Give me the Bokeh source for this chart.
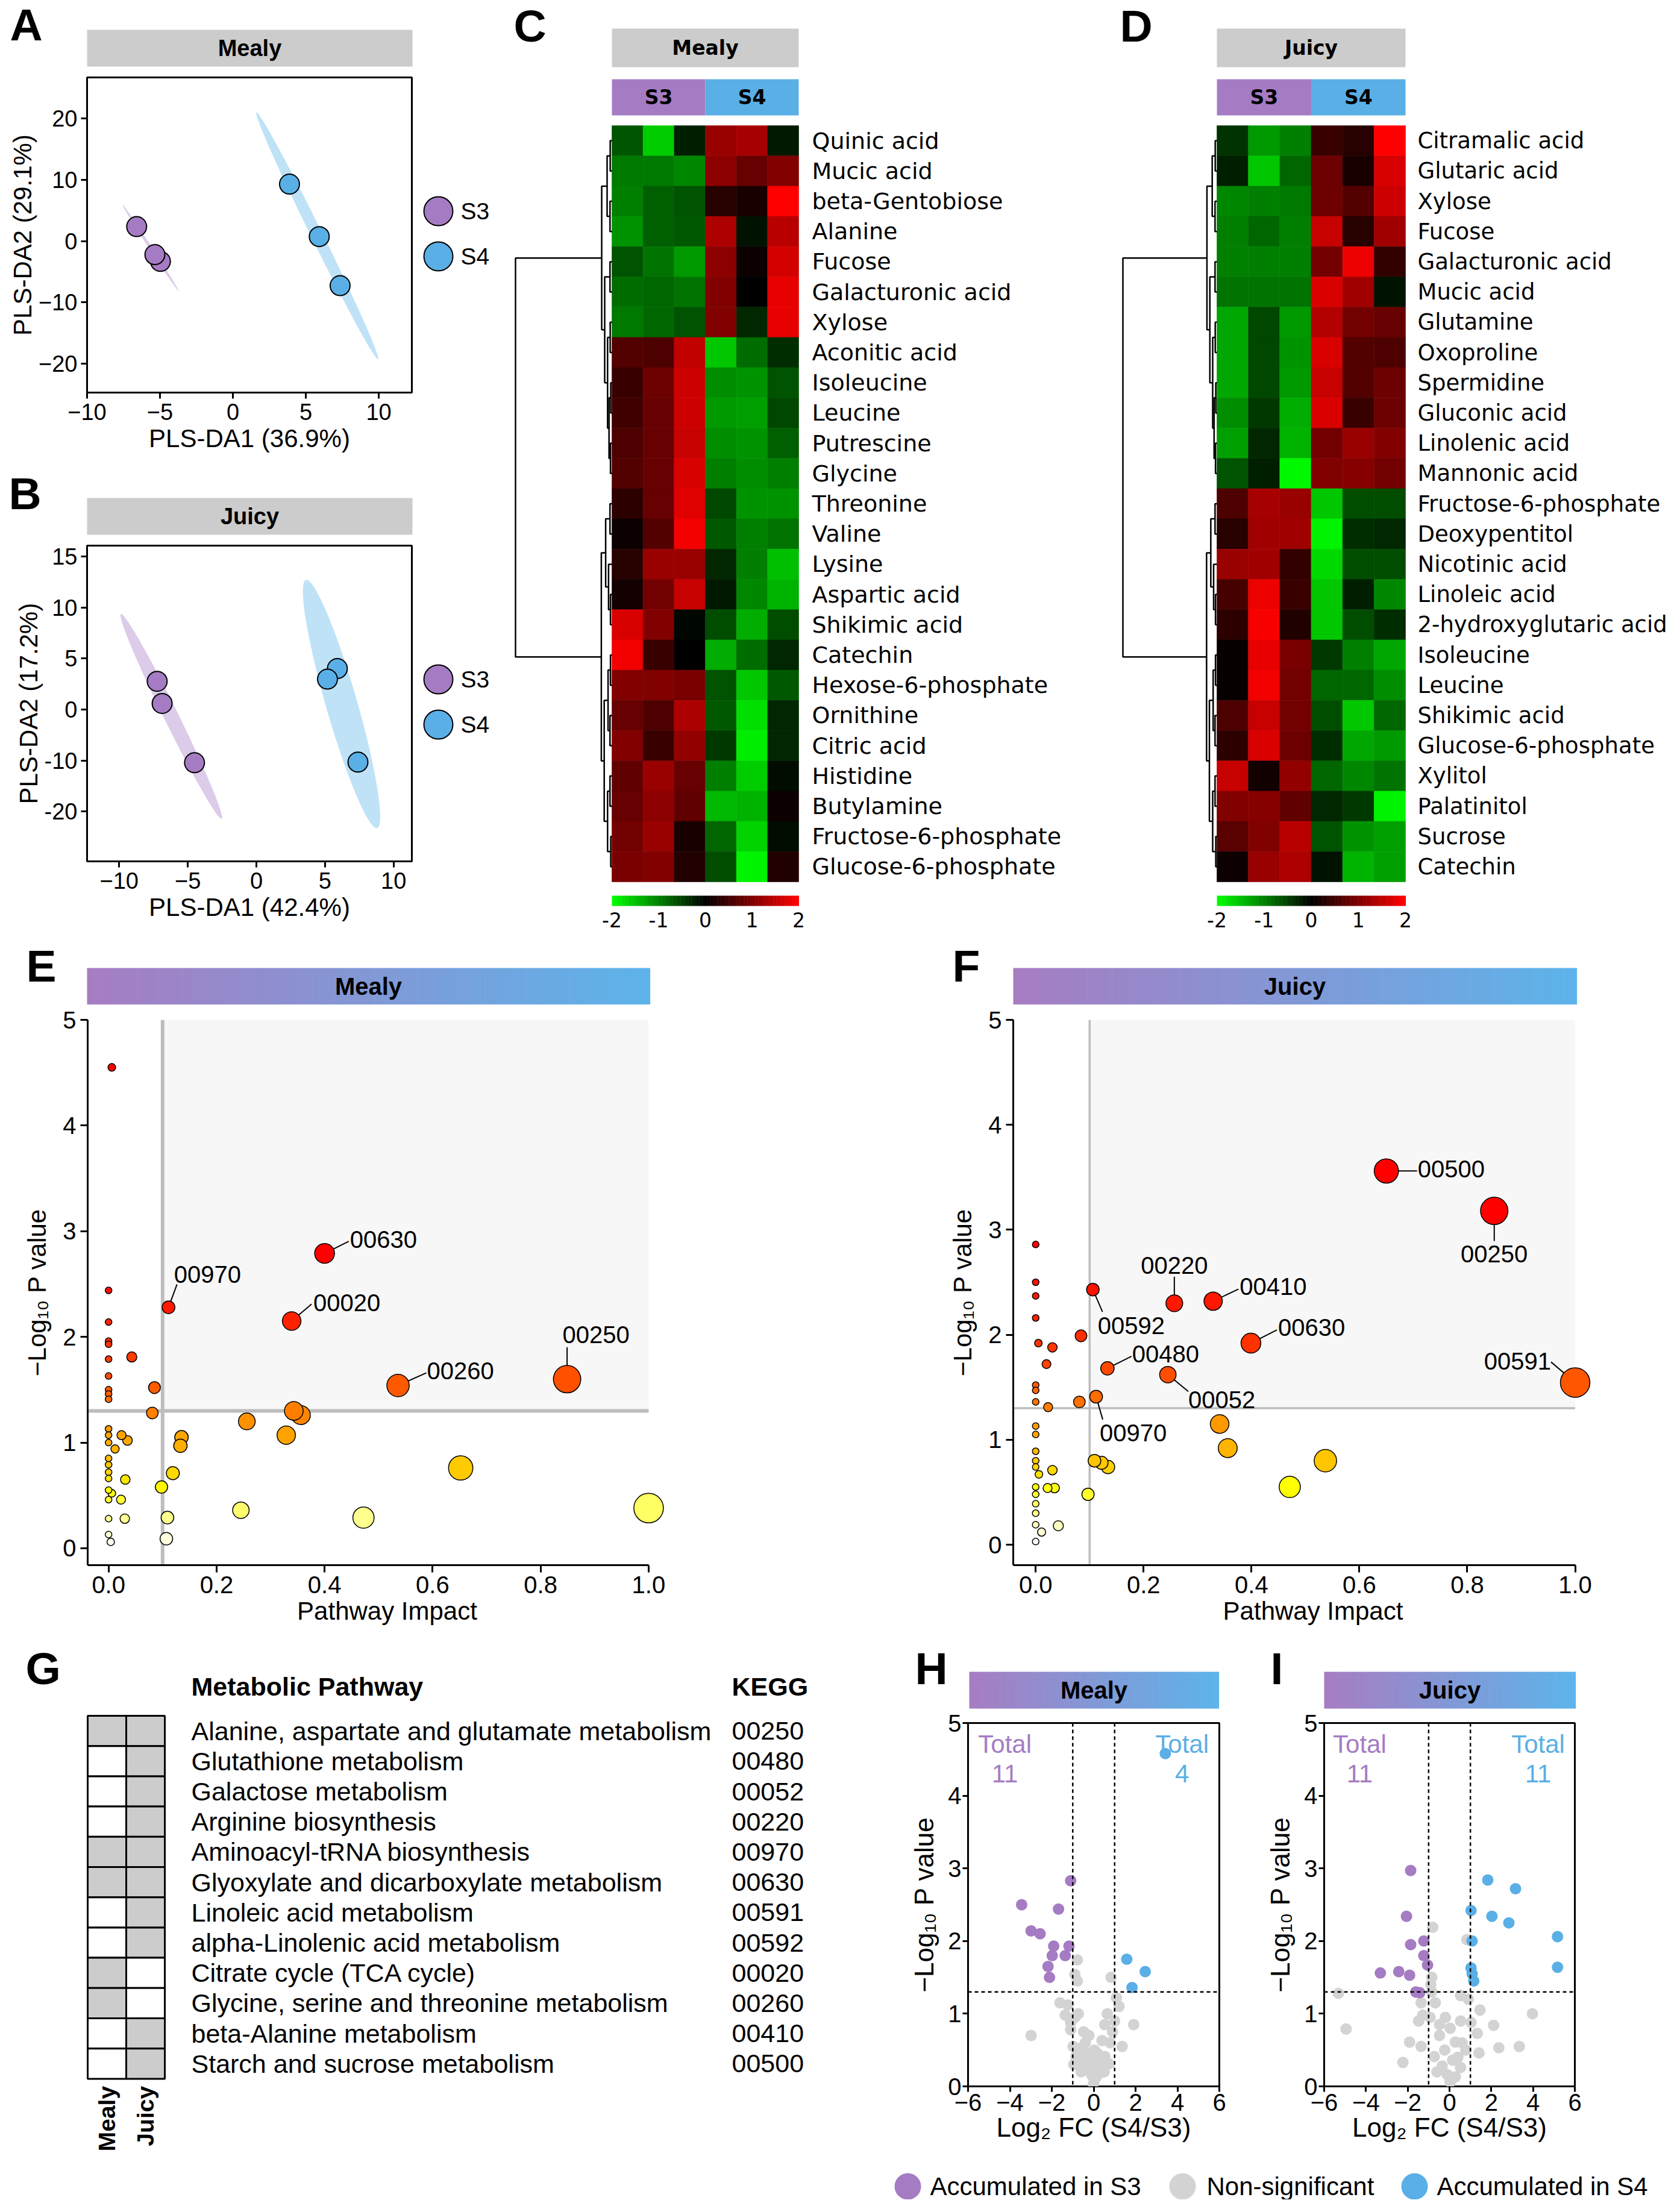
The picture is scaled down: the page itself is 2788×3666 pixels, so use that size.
import math
import numpy as np
from bokeh.plotting import figure
from bokeh.models import Range1d, FixedTicker, LinearColorMapper, Span, ColumnDataSource, PrintfTickFormatter
from bokeh.layouts import row, column
from bokeh.core.properties import value
from bokeh.transform import transform
from bokeh.embed import file_html
from bokeh.resources import INLINE

# ====================== DATA ======================
groups = ["S3", "S4"]

# Panel A (Mealy PLS-DA scores)
A_s3_x = [-4.97, -6.60, -5.35]
A_s3_y = [-3.30, 2.37, -2.20]
A_s4_x = [3.88, 7.35, 5.92]
A_s4_y = [9.30, -7.26, 0.74]
A_ell_s3 = [(-7.57, 5.93), (-3.72, -8.15)]     # confidence ellipse major-axis ends
A_ell_s4 = [(1.61, 20.99), (9.95, -19.26)]

# Panel B (Juicy PLS-DA scores) - y in the (evenly spaced) axis positions of the picture
B_s3_x = [-7.23, -6.87, -4.51]
B_s3_y = [2.77, 0.60, -5.21]
B_s4_x = [5.90, 5.18, 7.40]
B_s4_y = [4.02, 2.98, -5.15]
B_ell_s3 = [(-9.88, 9.375), (-2.53, -10.71)]
B_ell_s4 = [(3.61, 12.71), (8.80, -11.61)]
B_yticks = [15, 10, 5, 0, -5, -10]
B_ytick_labels = ["15", "10", "5", "0", "-10", "-20"]

# Panel C heatmap (Mealy), z-scores, columns S3 x3, S4 x3
C_names = ["Quinic acid", "Mucic acid", "beta-Gentobiose", "Alanine", "Fucose", "Galacturonic acid",
           "Xylose", "Aconitic acid", "Isoleucine", "Leucine", "Putrescine", "Glycine", "Threonine",
           "Valine", "Lysine", "Aspartic acid", "Shikimic acid", "Catechin", "Hexose-6-phosphate",
           "Ornithine", "Citric acid", "Histidine", "Butylamine", "Fructose-6-phosphate",
           "Glucose-6-phosphate"]
C_values = [
    [-0.67, -1.60, -0.24, 1.20, 1.30, -0.20],
    [-0.95, -0.95, -1.05, 1.10, 0.80, 1.00],
    [-1.00, -0.75, -0.65, 0.30, 0.20, 2.00],
    [-1.15, -0.75, -0.70, 1.35, -0.15, 1.45],
    [-0.65, -0.90, -1.20, 1.10, 0.10, 1.65],
    [-0.85, -0.80, -0.90, 1.00, 0.00, 1.80],
    [-0.95, -0.80, -0.65, 1.00, -0.30, 1.80],
    [0.65, 0.60, 1.50, -1.55, -0.85, -0.35],
    [0.45, 0.85, 1.60, -1.10, -1.15, -0.65],
    [0.50, 0.80, 1.60, -1.20, -1.25, -0.55],
    [0.60, 0.80, 1.55, -1.10, -1.15, -0.75],
    [0.65, 0.80, 1.70, -1.00, -1.10, -1.00],
    [0.35, 0.80, 1.75, -0.55, -1.15, -1.15],
    [0.10, 0.65, 1.90, -0.70, -1.00, -0.90],
    [0.30, 1.20, 1.20, -0.30, -1.00, -1.50],
    [0.15, 0.90, 1.55, -0.20, -1.05, -1.40],
    [1.70, 1.00, -0.05, -0.60, -1.35, -0.60],
    [1.90, 0.45, 0.00, -1.35, -0.85, -0.30],
    [1.00, 1.00, 0.95, -0.65, -1.55, -0.70],
    [0.80, 0.60, 1.35, -0.70, -1.75, -0.30],
    [1.00, 0.45, 1.15, -0.45, -1.85, -0.30],
    [0.75, 1.20, 0.80, -1.00, -1.60, -0.10],
    [0.80, 1.10, 0.75, -1.45, -1.40, 0.10],
    [0.90, 1.20, 0.20, -0.80, -1.65, -0.10],
    [0.95, 1.00, 0.25, -0.60, -1.90, 0.25],
]

# Panel D heatmap (Juicy)
D_names = ["Citramalic acid", "Glutaric acid", "Xylose", "Fucose", "Galacturonic acid", "Mucic acid",
           "Glutamine", "Oxoproline", "Spermidine", "Gluconic acid", "Linolenic acid", "Mannonic acid",
           "Fructose-6-phosphate", "Deoxypentitol", "Nicotinic acid", "Linoleic acid",
           "2-hydroxyglutaric acid", "Isoleucine", "Leucine", "Shikimic acid", "Glucose-6-phosphate",
           "Xylitol", "Palatinitol", "Sucrose", "Catechin"]
D_values = [
    [-0.40, -1.20, -1.00, 0.45, 0.30, 2.00],
    [-0.25, -1.55, -0.80, 0.85, 0.20, 1.70],
    [-1.05, -1.00, -0.95, 0.85, 0.65, 1.60],
    [-1.00, -0.80, -1.00, 1.55, 0.30, 1.25],
    [-1.00, -1.00, -1.00, 0.90, 1.85, 0.40],
    [-0.90, -0.90, -0.90, 1.70, 1.25, -0.15],
    [-1.30, -0.55, -1.20, 1.40, 0.90, 0.80],
    [-1.30, -0.55, -1.15, 1.70, 0.65, 0.60],
    [-1.30, -0.55, -1.20, 1.55, 0.65, 0.85],
    [-1.10, -0.45, -1.35, 1.70, 0.45, 0.85],
    [-1.25, -0.30, -1.40, 0.90, 1.20, 1.00],
    [-0.65, -0.25, -1.95, 1.00, 1.05, 0.90],
    [0.60, 1.30, 1.20, -1.55, -0.60, -0.60],
    [0.30, 1.25, 1.25, -1.90, -0.35, -0.30],
    [1.20, 1.25, 0.40, -1.70, -0.60, -0.60],
    [0.55, 1.85, 0.45, -1.55, -0.25, -1.05],
    [0.35, 1.95, 0.25, -1.55, -0.60, -0.35],
    [0.05, 1.80, 0.95, -0.45, -1.00, -1.30],
    [0.05, 1.90, 0.90, -0.80, -0.80, -1.10],
    [0.60, 1.55, 0.90, -0.60, -1.55, -0.80],
    [0.35, 1.70, 0.85, -0.35, -1.30, -1.20],
    [1.55, 0.15, 1.15, -0.80, -1.05, -0.90],
    [1.00, 1.05, 0.75, -0.30, -0.45, -1.90],
    [0.70, 1.00, 1.45, -0.65, -1.15, -1.25],
    [0.10, 1.20, 1.35, -0.15, -1.40, -1.25],
]
# row dendrogram (same tree drawn in both heatmaps): [height, left, right], leaves = row index
DENDRO_TREE = [1.0,
               [0.106, [0.05, [0.018, 0, 1], [0.02, 2, 3]],
                [0.075, [0.02, 4, 5], [0.045, [0.018, 6, 7], [0.03, [0.012, 8, 9], [0.015, 10, 11]]]]],
               [0.11, [0.065, [0.02, 12, 13], [0.035, 14, [0.015, 15, 16]]],
                [0.08, [0.04, [0.015, 17, 18], [0.02, 19, 20]], [0.045, [0.02, 21, 22], [0.012, 23, 24]]]]]
heat_ticks = [-2, -1, 0, 1, 2]

# Panel E (Mealy pathway analysis)
E_impact = [0.400, 0.111, 0.339, 0.536, 0.849,
            0.006, 0.000, 0.000, 0.000, 0.000, 0.000, 0.043, 0.000, 0.000, 0.000, 0.000,
            0.085, 0.081, 0.256, 0.343, 0.356, 0.329, 0.135, 0.133,
            0.000, 0.000, 0.000, 0.000, 0.000, 0.000, 0.000, 0.000, 0.000,
            0.024, 0.035, 0.012, 0.031, 0.006, 0.023, 0.119, 0.098,
            0.245, 0.472, 0.652, 1.000, 0.109, 0.107, 0.000, 0.030, 0.000, 0.004]
E_logp = [2.79, 2.28, 2.15, 1.54, 1.60,
          4.55, 2.44, 2.14, 1.96, 1.93, 1.79, 1.81, 1.63, 1.50, 1.46, 1.41,
          1.52, 1.28, 1.20, 1.30, 1.26, 1.07, 1.05, 0.97,
          1.13, 1.07, 1.00, 0.85, 0.79, 0.72, 0.66, 0.55, 0.46,
          1.07, 1.02, 0.94, 0.65, 0.52, 0.46, 0.71, 0.58,
          0.36, 0.29, 0.76, 0.38, 0.29, 0.09, 0.28, 0.28, 0.13, 0.06]
E_codes = ["00630", "00970", "00020", "00260", "00250"] + [""] * 46

# Panel F (Juicy pathway analysis)
F_impact = [0.650, 0.850, 0.257, 0.329, 0.106, 0.399, 0.133, 0.245, 1.000, 0.112,
            0.000, 0.000, 0.000, 0.000, 0.084, 0.005, 0.031, 0.020, 0.000, 0.000, 0.000, 0.023, 0.081,
            0.341, 0.356, 0.537, 0.471,
            0.000, 0.000, 0.000, 0.000, 0.000, 0.006, 0.031, 0.109, 0.122, 0.134,
            0.000, 0.000, 0.022, 0.035, 0.097, 0.000, 0.000, 0.000, 0.042, 0.011, 0.000]
F_logp = [3.56, 3.18, 2.30, 2.32, 2.43, 1.92, 1.68, 1.62, 1.545, 1.41,
          2.86, 2.50, 2.37, 2.16, 1.99, 1.92, 1.88, 1.72, 1.52, 1.47, 1.36, 1.31, 1.36,
          1.15, 0.92, 0.80, 0.55,
          1.13, 1.05, 0.89, 0.80, 0.74, 0.67, 0.71, 0.80, 0.78, 0.74,
          0.55, 0.48, 0.54, 0.54, 0.48, 0.39, 0.30, 0.19, 0.18, 0.12, 0.03]
F_codes = ["00500", "00250", "00220", "00410", "00592", "00630", "00480", "00052", "00591", "00970"] + [""] * 38
impact_threshold = 0.1
p_threshold = 1.3

# Panel G
G_paths = ["Alanine, aspartate and glutamate metabolism", "Glutathione metabolism", "Galactose metabolism",
           "Arginine biosynthesis", "Aminoacyl-tRNA biosynthesis", "Glyoxylate and dicarboxylate metabolism",
           "Linoleic acid metabolism", "alpha-Linolenic acid metabolism", "Citrate cycle (TCA cycle)",
           "Glycine, serine and threonine metabolism", "beta-Alanine metabolism", "Starch and sucrose metabolism"]
G_kegg = ["00250", "00480", "00052", "00220", "00970", "00630", "00591", "00592", "00020", "00260", "00410", "00500"]
G_mealy = [1, 0, 0, 0, 1, 1, 0, 0, 1, 1, 0, 0]
G_juicy = [1, 1, 1, 1, 1, 1, 1, 1, 0, 0, 1, 1]
G_columns = ["Mealy", "Juicy"]

# Panel H (Mealy volcano)
H_s3_fc = [-1.10, -3.44, -1.68, -2.99, -2.56, -1.91, -1.18, -1.98, -1.36, -2.18, -2.11]
H_s3_p = [2.83, 2.50, 2.44, 2.14, 2.10, 1.93, 1.93, 1.80, 1.80, 1.65, 1.50]
H_s4_fc = [3.42, 1.58, 2.46, 1.83]
H_s4_p = [4.58, 1.75, 1.58, 1.36]
H_ns_fc = [-0.78, -0.90, -0.78, 0.83, 1.08, 1.21, 0.65, -1.61, -1.23, -1.36, -0.73, 1.91, -2.99, 0.53, 0.90,
           -1.10, -0.48, -0.23, 1.36, 0.40, -0.98, -0.60, 0.03, -0.35, 0.53, 0.73, -0.85, -0.73, -0.23, 0.15,
           -0.10, 0.03, -0.02, 0.28, -0.35, -1.10, 0.78, 0.03, -0.48, -0.90, 0.20, -0.60, 0.50, -0.95, 0.10,
           -0.15, 0.35, -0.40, 1.00]
H_ns_p = [1.74, 1.54, 1.45, 1.50, 1.22, 1.10, 1.00, 1.15, 1.12, 0.98, 1.00, 0.85, 0.70, 0.85, 0.75,
          0.78, 0.75, 0.70, 0.55, 0.63, 0.55, 0.53, 0.50, 0.46, 0.41, 0.31, 0.41, 0.31, 0.31, 0.26,
          0.16, 0.08, 0.03, 0.18, 0.23, 0.88, 0.60, 0.36, 0.38, 0.95, 0.45, 0.20, 0.20, 0.30, 0.12,
          0.40, 0.30, 0.60, 0.90]
# Panel I (Juicy volcano)
I_s3_fc = [-1.86, -2.06, -1.86, -1.23, -1.23, -1.05, -3.31, -2.43, -1.91, -1.61, -1.43]
I_s3_p = [2.97, 2.34, 1.95, 2.00, 1.80, 1.67, 1.56, 1.58, 1.53, 1.30, 1.29]
I_s4_fc = [1.83, 3.16, 1.03, 2.03, 2.84, 5.17, 1.08, 5.17, 1.03, 1.08, 1.16]
I_s4_p = [2.84, 2.72, 2.42, 2.34, 2.25, 2.06, 2.00, 1.64, 1.63, 1.55, 1.45]
I_ns_fc = [-0.80, 0.83, -5.32, -4.95, 3.97, 3.34, 2.36, 2.11, 1.46, 0.53, -0.85, -1.36, -0.68, -1.28, -0.93,
           -1.91, -1.36, -2.23, -0.48, -0.48, 0.03, 0.53, 1.03, 1.33, 0.28, -0.23, 0.78, 1.41, -0.73, 0.15,
           -0.35, 0.53, -0.10, 0.03, 0.28, -0.85, -1.48, -0.90, 0.90, -0.20, 0.60, -0.60, 0.40]
I_ns_p = [2.19, 2.02, 1.28, 0.79, 1.00, 0.55, 0.53, 0.84, 1.05, 1.25, 1.50, 1.15, 1.15, 0.98, 0.95,
          0.61, 0.55, 0.33, 0.85, 0.70, 0.80, 0.90, 0.88, 0.73, 0.61, 0.50, 0.50, 0.46, 0.41, 0.36,
          0.28, 0.26, 0.16, 0.06, 0.13, 1.30, 0.90, 1.40, 1.20, 0.95, 0.60, 0.20, 0.40]
fc_threshold = 1.0
volcano_legend = ["Accumulated in S3", "Non-significant", "Accumulated in S4"]

# ====================== STYLE ======================
SANS = "Liberation Sans"
WIDE = "DejaVu Sans"
PURPLE = "#a57cc3"
BLUE = "#5aafe6"
GREY_NS = "#d3d3d3"
HEAD_GREY = "#cccccc"
ELL_FILL = {"S3": "#dccbe9", "S4": "#bfe2f6"}
GRAD = ("#a77cc2", "#5cb4ea")


def hex2rgb(h):
    h = h.lstrip("#")
    return tuple(int(h[i:i + 2], 16) for i in (0, 2, 4))


def rgb2hex(c):
    return "#%02x%02x%02x" % tuple(int(round(max(0, min(255, v)))) for v in c)


def lerp_color(c1, c2, t):
    a, b = hex2rgb(c1), hex2rgb(c2)
    return rgb2hex([a[i] + (b[i] - a[i]) * t for i in range(3)])


def palette_from_anchors(anchors, n=256):
    lo, hi = anchors[0][0], anchors[-1][0]
    out = []
    for k in range(n):
        v = lo + (hi - lo) * k / (n - 1)
        col = anchors[-1][1]
        for (v0, c0), (v1, c1) in zip(anchors[:-1], anchors[1:]):
            if v <= v1:
                col = lerp_color(c0, c1, (v - v0) / (v1 - v0))
                break
        out.append(col)
    return out


heat_anchors = [(0.0, "#ffffff"), (0.2, "#ffffb8"), (0.38, "#ffff60"), (0.55, "#ffff00"), (0.75, "#ffcc00"),
                (0.95, "#ffb000"), (1.15, "#ff9a00"), (1.35, "#ff7400"), (1.6, "#ff5000"), (1.9, "#ff3400"),
                (2.3, "#ff1800"), (2.8, "#ff0000")]
heat_mapper = LinearColorMapper(palette=palette_from_anchors(heat_anchors), low=0.0, high=2.8)

gr_pal = []
for k in range(256):
    t = -1 + 2 * k / 255
    gr_pal.append(rgb2hex((255 * t, 0, 0)) if t >= 0 else rgb2hex((0, -255 * t, 0)))
gr_mapper = LinearColorMapper(palette=gr_pal, low=-2, high=2)


def strip(w, h):
    """Figure whose frame fills the whole canvas, coordinates in pixels (y downward)."""
    p = figure(frame_width=w, frame_height=h, x_range=Range1d(0, w), y_range=Range1d(h, 0),
               x_axis_location=None, y_axis_location=None, output_backend="svg", toolbar_location=None,
               min_border=0, min_border_left=0, min_border_right=0, min_border_top=0, min_border_bottom=0)
    p.outline_line_color = None
    p.grid.visible = False
    return p


def plotfig(fw, fh, xr, yr, bl, br, bt, bb):
    p = figure(frame_width=fw, frame_height=fh, x_range=Range1d(*xr), y_range=Range1d(*yr),
               output_backend="svg", toolbar_location=None, min_border=0,
               min_border_left=bl, min_border_right=br, min_border_top=bt, min_border_bottom=bb)
    p.grid.visible = False
    return p


def style_axes(p, tick_px, label_px, tick_out=10, lw=3):
    for ax in p.axis:
        ax.major_label_text_font = SANS
        ax.major_label_text_font_size = f"{tick_px}px"
        ax.major_label_text_color = "black"
        ax.axis_label_text_font = SANS
        ax.axis_label_text_font_size = f"{label_px}px"
        ax.axis_label_text_font_style = "normal"
        ax.axis_label_text_color = "black"
        ax.minor_tick_line_color = None
        ax.major_tick_in = 0
        ax.major_tick_out = tick_out
        ax.major_tick_line_width = lw
        ax.major_tick_line_color = "black"
        ax.axis_line_width = lw
        ax.axis_line_color = "black"


def letter(p, x, y, s):
    p.text(x=[x], y=[y], text=[s], text_font=value(SANS), text_font_size="75px", text_font_style="bold",
           text_align="left", text_baseline="middle", text_color="black")


def header(p, x0, x1, y0, y1, label, size, gradient=False):
    if gradient:
        n = 160
        lefts = [x0 + (x1 - x0) * k / n for k in range(n)]
        rights = [x0 + (x1 - x0) * (k + 1) / n + 0.6 for k in range(n)]
        cols = [lerp_color(GRAD[0], GRAD[1], (k + 0.5) / n) for k in range(n)]
        p.quad(left=lefts, right=rights, top=[y0] * n, bottom=[y1] * n, fill_color=cols, line_color=None)
    else:
        p.quad(left=[x0], right=[x1], top=[y0], bottom=[y1], fill_color=HEAD_GREY, line_color=None)
    p.text(x=[(x0 + x1) / 2], y=[(y0 + y1) / 2], text=[label], text_font=value(SANS),
           text_font_size=f"{size}px", text_font_style="bold", text_align="center",
           text_baseline="middle", text_color="black")


# ====================== PANELS A / B ======================
def ellipse_xy(ends, half_w_px, sx, sy, n=120):
    (x1, y1), (x2, y2) = ends
    X1, Y1, X2, Y2 = x1 * sx, y1 * sy, x2 * sx, y2 * sy
    cx, cy = (X1 + X2) / 2, (Y1 + Y2) / 2
    ax, ay = (X2 - X1) / 2, (Y2 - Y1) / 2
    L = math.hypot(ax, ay)
    bx, by = -ay / L * half_w_px, ax / L * half_w_px
    t = np.linspace(0, 2 * np.pi, n)
    X = cx + np.cos(t) * ax + np.sin(t) * bx
    Y = cy + np.cos(t) * ay + np.sin(t) * by
    return list(X / sx), list(Y / sy)


def pls_plot(fw, fh, xr, yr, bb, xticks, yticks, xlabel, ylabel, s3, s4, ells, ell_w):
    p = plotfig(fw, fh, xr, yr, 144, 10, 8, bb)
    style_axes(p, 38, 42, tick_out=10)
    p.xaxis.ticker = FixedTicker(ticks=xticks)
    p.yaxis.ticker = FixedTicker(ticks=yticks)
    p.xaxis.axis_label = xlabel
    p.yaxis.axis_label = ylabel
    p.xaxis.major_label_standoff = 8
    p.xaxis.axis_label_standoff = 4
    p.yaxis.major_label_standoff = 6
    p.yaxis.axis_label_standoff = 0
    p.axis.axis_line_color = None
    p.outline_line_color = "black"
    p.outline_line_width = 3
    p.outline_line_alpha = 1.0
    sx = fw / (xr[1] - xr[0])
    sy = fh / (yr[1] - yr[0])
    for g, ends in zip(groups, ells):
        ex, ey = ellipse_xy(ends, ell_w[g], sx, sy)
        p.patch(ex, ey, fill_color=ELL_FILL[g], line_color=None)
    for (xs, ys), col in zip([s3, s4], [PURPLE, BLUE]):
        p.scatter(xs, ys, size=33, fill_color=col, line_color="black", line_width=2)
    return p


def pls_legend(h):
    p = strip(147, h)
    p.scatter(x=[34, 34], y=[230, 305], size=48, fill_color=[PURPLE, BLUE], line_color="black", line_width=2)
    p.text(x=[71, 71], y=[230, 305], text=groups, text_font=value(SANS), text_font_size="39px",
           text_align="left", text_baseline="middle", text_color="black")
    return p


hdrA = strip(840, 120)
header(hdrA, 144, 684, 49, 110, "Mealy", 38)
letter(hdrA, 16, 40, "A")
pA = pls_plot(539, 523, (-10, 12.27), (-24.7, 26.7), 118, [-10, -5, 0, 5, 10], [-20, -10, 0, 10, 20],
              "PLS-DA1 (36.9%)", "PLS-DA2 (29.1%)", (A_s3_x, A_s3_y), (A_s4_x, A_s4_y),
              [A_ell_s3, A_ell_s4], {"S3": 2.5, "S4": 9.5})
legA = pls_legend(649)

hdrB = strip(840, 128)
header(hdrB, 144, 684, 57, 118, "Juicy", 38)
letter(hdrB, 14, 49, "B")
pB = pls_plot(539, 524, (-12.34, 11.33), (-14.88, 16.07), 123, [-10, -5, 0, 5, 10], B_yticks,
              "PLS-DA1 (42.4%)", "PLS-DA2 (17.2%)", (B_s3_x, B_s3_y), (B_s4_x, B_s4_y),
              [B_ell_s3, B_ell_s4], {"S3": 12, "S4": 26})
pB.yaxis.major_label_overrides = {t: l for t, l in zip(B_yticks, B_ytick_labels)}
legB = pls_legend(655)


# ====================== PANELS C / D ======================
def dendro_lines(tree, root_len):
    xs, ys = [], []

    def rec(n):
        if isinstance(n, int):
            return -(n + 0.5), 0.0
        h, l, r = n
        yl, xl = rec(l)
        yr_, xr_ = rec(r)
        xn = -h * root_len
        xs.append([xl, xn, xn, xr_])
        ys.append([yl, yl, yr_, yr_])
        return (yl + yr_) / 2, xn

    rec(tree)
    return xs, ys


def heat_panel(width, fig_left, hm_left, hm_right, names, vals, title, let, let_x, root_x, label_x, label_px):
    cw = (hm_right - hm_left) / 6.0
    rh = 50.2
    top, ftop, H = 216.0, 8.0, 1552

    def ux(px):
        return (px - hm_left) / cw

    def uy(py):
        return (top - py) / rh

    p = figure(frame_width=width, frame_height=H, x_range=Range1d(ux(fig_left), ux(fig_left + width)),
               y_range=Range1d(uy(ftop + H), uy(ftop)), x_axis_location=None, y_axis_location=None,
               output_backend="svg", toolbar_location=None, min_border=0, min_border_left=0,
               min_border_right=0, min_border_top=0, min_border_bottom=0)
    p.outline_line_color = None
    p.grid.visible = False
    nrow = len(names)
    src = ColumnDataSource(dict(
        x=[j + 0.5 for i in range(nrow) for j in range(6)],
        y=[-(i + 0.5) for i in range(nrow) for j in range(6)],
        v=[vals[i][j] for i in range(nrow) for j in range(6)]))
    p.rect(x="x", y="y", width=1, height=1, source=src, fill_color=transform("v", gr_mapper),
           line_color=transform("v", gr_mapper), line_width=0.6)
    # headers
    header_top, header_bot = uy(55), uy(119)
    p.quad(left=[0], right=[6], top=[header_top], bottom=[header_bot], fill_color=HEAD_GREY, line_color=None)
    p.text(x=[3], y=[(header_top + header_bot) / 2], text=[title], text_font=value(WIDE), text_font_size="33px",
           text_font_style="bold", text_align="center", text_baseline="middle", text_color="black")
    gt, gb = uy(139), uy(199)
    p.quad(left=[0, 3], right=[3, 6], top=[gt, gt], bottom=[gb, gb], fill_color=[PURPLE, BLUE], line_color=None)
    p.text(x=[1.5, 4.5], y=[(gt + gb) / 2] * 2, text=groups, text_font=value(WIDE), text_font_size="33px",
           text_font_style="bold", text_align="center", text_baseline="middle", text_color="black")
    # row labels
    p.text(x=[ux(label_x)] * nrow, y=[-(i + 0.5) for i in range(nrow)], text=names, text_font=value(WIDE),
           text_font_size=f"{label_px}px", text_align="left", text_baseline="middle", text_color="black")
    # dendrogram
    dxs, dys = dendro_lines(DENDRO_TREE, -ux(root_x))
    p.multi_line(xs=dxs, ys=dys, line_color="black", line_width=2.5)
    # colour key
    n = 120
    cb_t, cb_b = uy(1494), uy(1511)
    vv = [-2 + 4 * (k + 0.5) / n for k in range(n)]
    csrc = ColumnDataSource(dict(l=[6 * k / n for k in range(n)], r=[6 * (k + 1) / n + 0.01 for k in range(n)], v=vv))
    p.quad(left="l", right="r", top=cb_t, bottom=cb_b, source=csrc, fill_color=transform("v", gr_mapper),
           line_color=None)
    p.text(x=[(t + 2) * 1.5 for t in heat_ticks], y=[uy(1534)] * len(heat_ticks), text=[str(t) for t in heat_ticks],
           text_font=value(WIDE), text_font_size="33px", text_align="center", text_baseline="middle",
           text_color="black")
    p.text(x=[ux(let_x)], y=[uy(50)], text=[let], text_font=value(SANS), text_font_size="75px",
           text_font_style="bold", text_align="left", text_baseline="middle", text_color="black")
    return p


pC = heat_panel(1002, 848, 1023, 1333, C_names, C_values, "Mealy", "C", 860, 863, 1355, 38)
pD = heat_panel(930, 1850, 2027, 2340, D_names, D_values, "Juicy", "D", 1866, 1871, 2360, 37)


# ====================== PANELS E / F ======================
E_label_style = {
    "00630": dict(tx=42, ty=-23, align="left", lx=40, ly=-20),
    "00970": dict(tx=9, ty=-55, align="left", lx=14, ly=-38),
    "00020": dict(tx=36, ty=-30, align="left", lx=33, ly=-28),
    "00260": dict(tx=48, ty=-24, align="left", lx=47, ly=-21),
    "00250": dict(tx=48, ty=-74, align="center", lx=0, ly=-53),
}
F_label_style = {
    "00500": dict(tx=52, ty=-3, align="left", lx=51, ly=0),
    "00250": dict(tx=0, ty=71, align="center", lx=0, ly=50),
    "00220": dict(tx=0, ty=-63, align="center", lx=0, ly=-44),
    "00410": dict(tx=44, ty=-24, align="left", lx=42, ly=-20),
    "00592": dict(tx=8, ty=60, align="left", lx=16, ly=37),
    "00630": dict(tx=45, ty=-26, align="left", lx=43, ly=-22),
    "00480": dict(tx=41, ty=-24, align="left", lx=40, ly=-20),
    "00052": dict(tx=34, ty=42, align="left", lx=34, ly=28),
    "00591": dict(tx=-40, ty=-35, align="right", lx=-40, ly=-34),
    "00970": dict(tx=6, ty=60, align="left", lx=11, ly=38),
}


def pathway_plot(fw, fh, xr, yr, bl, br, impact, logp, codes, lstyle, grey_w):
    p = plotfig(fw, fh, xr, yr, bl, br, 25, 130)
    style_axes(p, 40, 42, tick_out=12)
    p.outline_line_color = None
    p.xaxis.ticker = FixedTicker(ticks=[0, 0.2, 0.4, 0.6, 0.8, 1.0])
    p.xaxis.formatter = PrintfTickFormatter(format="%.1f")
    p.yaxis.ticker = FixedTicker(ticks=[0, 1, 2, 3, 4, 5])
    p.xaxis.bounds = (xr[0], 1.0)
    p.xaxis.axis_label = "Pathway Impact"
    p.yaxis.axis_label = "\u2212Log\u2081\u2080 P value"
    p.xaxis.major_label_standoff = 6
    p.xaxis.axis_label_standoff = 3
    p.yaxis.major_label_standoff = 7
    p.yaxis.axis_label_standoff = 16
    p.quad(left=[impact_threshold], right=[1.0], bottom=[p_threshold], top=[yr[1]], fill_color="#f7f7f7",
           line_color=None)
    p.segment(x0=[impact_threshold, xr[0]], y0=[yr[0], p_threshold], x1=[impact_threshold, 1.0],
              y1=[yr[1], p_threshold], line_color="#bdbdbd", line_width=grey_w)
    sx = fw / (xr[1] - xr[0])
    sy = fh / (yr[1] - yr[0])
    # leader lines
    lx0, ly0, lx1, ly1 = [], [], [], []
    for x, y, c in zip(impact, logp, codes):
        if c:
            s = lstyle[c]
            lx0.append(x); ly0.append(y)
            lx1.append(x + s["lx"] / sx); ly1.append(y - s["ly"] / sy)
    p.segment(x0=lx0, y0=ly0, x1=lx1, y1=ly1, line_color="black", line_width=2)
    sizes = [11 + 38 * (x ** 0.6) for x in impact]
    order = sorted(range(len(impact)), key=lambda i: -sizes[i])
    src = ColumnDataSource(dict(x=[impact[i] for i in order], y=[logp[i] for i in order],
                                s=[sizes[i] for i in order]))
    p.scatter(x="x", y="y", size="s", source=src, fill_color=transform("y", heat_mapper),
              line_color="black", line_width=1.5)
    for align in ["left", "center", "right"]:
        xs, ys, ts, ox, oy = [], [], [], [], []
        for x, y, c in zip(impact, logp, codes):
            if c and lstyle[c]["align"] == align:
                xs.append(x); ys.append(y); ts.append(c)
                ox.append(lstyle[c]["tx"]); oy.append(lstyle[c]["ty"])
        if xs:
            p.text(x=xs, y=ys, text=ts, x_offset=ox, y_offset=oy, text_font=value(SANS), text_font_size="40px",
                   text_align=align, text_baseline="middle", text_color="black")
    return p


hdrE = strip(1192, 115)
header(hdrE, 144, 1078, 54, 115, "Mealy", 40, gradient=True)
letter(hdrE, 43, 50, "E")
pE = pathway_plot(994, 905, (-0.0387, 1.0704), (-0.16, 5.0), 145, 53, E_impact, E_logp, E_codes, E_label_style, 6)

hdrF = strip(1580, 115)
header(hdrF, 489, 1424, 54, 115, "Juicy", 40, gradient=True)
letter(hdrF, 388, 50, "F")
pF = pathway_plot(995, 905, (-0.0416, 1.0698), (-0.195, 5.0), 489, 96, F_impact, F_logp, F_codes, F_label_style, 3.5)


# ====================== PANEL G ======================
pG = strip(1472, 923)
letter(pG, 42, 41, "G")
row_h = 50.2
row_top = 120
cell_l, cell_w = 145, 64
for c, flags in enumerate([G_mealy, G_juicy]):
    pG.quad(left=[cell_l + cell_w * c] * len(flags), right=[cell_l + cell_w * (c + 1)] * len(flags),
            top=[row_top + row_h * i for i in range(len(flags))],
            bottom=[row_top + row_h * (i + 1) for i in range(len(flags))],
            fill_color=[HEAD_GREY if f else "white" for f in flags], line_color="black", line_width=3)
ycent = [row_top + row_h * (i + 0.5) for i in range(len(G_paths))]
pG.text(x=[317] * len(G_paths), y=ycent, text=G_paths, text_font=value(SANS), text_font_size="43px",
        text_align="left", text_baseline="middle", text_color="black")
pG.text(x=[1214] * len(G_kegg), y=ycent, text=G_kegg, text_font=value(SANS), text_font_size="43px",
        text_align="left", text_baseline="middle", text_color="black")
pG.text(x=[317, 1214], y=[71, 71], text=["Metabolic Pathway", "KEGG"], text_font=value(SANS),
        text_font_size="43px", text_font_style="bold", text_align="left", text_baseline="middle", text_color="black")
pG.text(x=[cell_l + cell_w * (c + 0.5) for c in range(2)], y=[row_top + row_h * len(G_paths) + 12] * 2,
        text=G_columns, angle=math.pi / 2, text_font=value(SANS), text_font_size="39px", text_font_style="bold",
        text_align="right", text_baseline="middle", text_color="black")


# ====================== PANELS H / I ======================
def volcano(fw, bl, br, s3, s4, ns, tot_x):
    p = plotfig(fw, 603, (-6, 6), (0, 5), bl, br, 22, 130)
    style_axes(p, 40, 44, tick_out=9)
    p.axis.axis_line_color = None
    p.outline_line_color = "black"
    p.outline_line_width = 3
    p.outline_line_alpha = 1.0
    p.xaxis.ticker = FixedTicker(ticks=[-6, -4, -2, 0, 2, 4, 6])
    p.yaxis.ticker = FixedTicker(ticks=[0, 1, 2, 3, 4, 5])
    p.xaxis.axis_label = "Log\u2082 FC (S4/S3)"
    p.yaxis.axis_label = "\u2212Log\u2081\u2080 P value"
    p.xaxis.major_label_standoff = 3
    p.xaxis.axis_label_standoff = 0
    p.yaxis.major_label_standoff = 2
    p.yaxis.axis_label_standoff = 12
    p.scatter(ns[0], ns[1], size=19, fill_color=GREY_NS, line_color=None)
    p.scatter(s3[0], s3[1], size=19, fill_color=PURPLE, line_color=None)
    p.scatter(s4[0], s4[1], size=19, fill_color=BLUE, line_color=None)
    for loc, dim in [(-fc_threshold, "height"), (fc_threshold, "height"), (p_threshold, "width")]:
        p.add_layout(Span(location=loc, dimension=dim, line_color="black", line_width=2.5, line_dash="6 5"))
    p.text(x=[tot_x[0], tot_x[1]], y=[4.71, 4.71], text=["Total", "Total"], text_color=[PURPLE, BLUE],
           text_font=value(SANS), text_font_size="42px", text_align="center", text_baseline="middle")
    p.text(x=[tot_x[0], tot_x[1]], y=[4.30, 4.30], text=[str(len(s3[0])), str(len(s4[0]))],
           text_color=[PURPLE, BLUE], text_font=value(SANS), text_font_size="42px", text_align="center",
           text_baseline="middle")
    return p


hdrH = strip(620, 110)
header(hdrH, 136, 550, 47, 108, "Mealy", 40, gradient=True)
letter(hdrH, 46, 41, "H")
pH = volcano(417, 134, 69, (H_s3_fc, H_s3_p), (H_s4_fc, H_s4_p), (H_ns_fc, H_ns_p), (-4.24, 4.22))

hdrI = strip(680, 110)
header(hdrI, 105, 522, 47, 108, "Juicy", 40, gradient=True)
letter(hdrI, 16, 41, "I")
pI = volcano(416, 105, 159, (I_s3_fc, I_s3_p), (I_s4_fc, I_s4_p), (I_ns_fc, I_ns_p), (-4.30, 4.24))

legHI = strip(1300, 58)
legHI.scatter(x=[34, 490, 875], y=[36, 36, 36], size=44, fill_color=[PURPLE, GREY_NS, BLUE], line_color=None)
legHI.text(x=[71, 530, 912], y=[36, 36, 36], text=volcano_legend, text_font=value(SANS), text_font_size="42px",
           text_align="left", text_baseline="middle", text_color="black")

# ====================== LAYOUT ======================
# every figure wrapped on its own so that no frame alignment between siblings happens
colAB = column(row(hdrA), row(pA, column(legA)), row(hdrB), row(pB, column(legB)))
top = row(colAB, column(pC), column(pD))
mid = row(column(row(hdrE), row(pE)), column(row(hdrF), row(pF)))
bot = row(column(pG), column(row(row(hdrH), row(hdrI)), row(row(pH), row(pI)), row(legHI)))
page = column(top, mid, bot)

open("out.html", "w").write(file_html(page, INLINE))
